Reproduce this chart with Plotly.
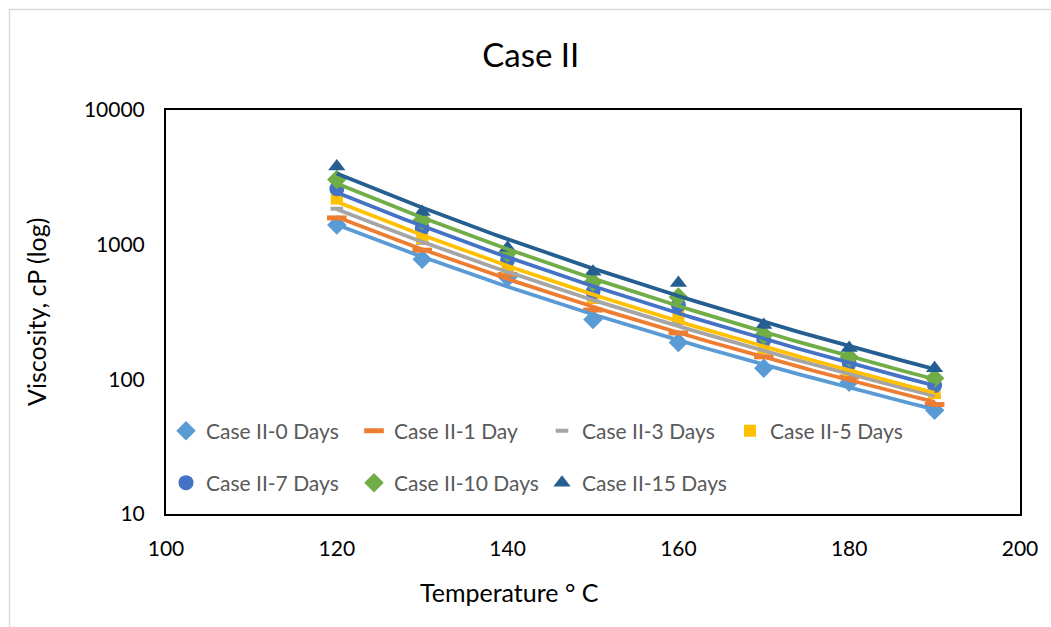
import numpy as np
import plotly.graph_objects as go

# Temperatures (deg C) and measured viscosities (cP) per ageing time
temperature = [120, 130, 140, 150, 160, 170, 180, 190]
visc_0_days = [1400, 780, 570, 278, 188, 121, 95, 59]
visc_1_day = [1580, 910, 600, 327, 221, 147, 104, 65]
visc_3_days = [1850, 1030, 630, 375, 262, 160, 111, 74]
visc_5_days = [2200, 1120, 680, 402, 300, 171, 117, 79]
visc_7_days = [2600, 1330, 770, 445, 356, 196, 132, 90]
visc_10_days = [3050, 1520, 870, 528, 409, 213, 146, 102]
visc_15_days = [3800, 1750, 950, 630, 520, 253, 171, 121]

series_names = ["Case II-0 Days", "Case II-1 Day", "Case II-3 Days", "Case II-5 Days",
                "Case II-7 Days", "Case II-10 Days", "Case II-15 Days"]
series_values = [visc_0_days, visc_1_day, visc_3_days, visc_5_days,
                 visc_7_days, visc_10_days, visc_15_days]

colors = ["#5B9BD5", "#ED7D31", "#A5A5A5", "#FFC000", "#4472C4", "#70AD47", "#255E91"]
markers = [
    dict(symbol="diamond", size=15),
    dict(symbol="line-ew", size=14, line=dict(width=5)),
    dict(symbol="line-ew", size=9, line=dict(width=4)),
    dict(symbol="square", size=12),
    dict(symbol="circle", size=15),
    dict(symbol="diamond", size=15),
    dict(symbol="triangle-up", size=15),
]

FONT = "Lato, 'Open Sans', sans-serif"

fig = go.Figure()

# Measured points
for i, (name, vals) in enumerate(zip(series_names, series_values)):
    m = dict(markers[i])
    m["color"] = colors[i]
    if "line" in m:
        m["line"] = dict(m["line"], color=colors[i])
    else:
        m["line"] = dict(width=0)
    fig.add_trace(go.Scatter(
        x=temperature, y=vals, mode="markers", name=name, marker=m,
        legend="legend" if i < 4 else "legend2",
    ))

# Power-law trendlines  y = a * x^b
x_arr = np.array(temperature, dtype=float)
x_fit = np.linspace(120, 190, 80)
for i, vals in enumerate(series_values):
    b, log_a = np.polyfit(np.log(x_arr), np.log(np.array(vals, dtype=float)), 1)
    y_fit = np.exp(log_a) * x_fit ** b
    fig.add_trace(go.Scatter(
        x=x_fit, y=y_fit, mode="lines", showlegend=False, hoverinfo="skip",
        line=dict(color=colors[i], width=3.75),
    ))

legend_common = dict(
    orientation="h", xref="paper", yref="paper", xanchor="left", yanchor="middle",
    entrywidth=143, entrywidthmode="pixels", bgcolor="rgba(0,0,0,0)",
    font=dict(family=FONT, size=21, color="#595959"), itemwidth=30,
    tracegroupgap=0,
)

fig.update_layout(
    width=1051, height=627,
    margin=dict(l=166, r=31, t=110, b=113),
    paper_bgcolor="white", plot_bgcolor="white",
    font=dict(family=FONT, color="black"),
    title=dict(text="Case II", x=0.505, xref="container", xanchor="center",
               y=1 - 55 / 627, yref="container", yanchor="middle",
               font=dict(family=FONT, size=33, color="black")),
    xaxis=dict(range=[100, 200], tickvals=[100, 120, 140, 160, 180, 200],
               showgrid=False, zeroline=False, showline=True, mirror=True,
               linecolor="black", linewidth=2, ticks="",
               tickfont=dict(family=FONT, size=21, color="black"),
               ticklabelstandoff=15),
    yaxis=dict(type="log", range=[1, 4], tickvals=[10, 100, 1000, 10000],
               ticktext=["10", "100", "1000", "10000"],
               showgrid=False, zeroline=False, showline=True, mirror=True,
               linecolor="black", linewidth=2, ticks="",
               tickfont=dict(family=FONT, size=21, color="black"),
               ticklabelstandoff=15),
    legend=dict(legend_common, x=0.0, y=(514 - 431) / 404),
    legend2=dict(legend_common, x=0.0, y=(514 - 483) / 404),
    annotations=[
        dict(text="Temperature ° C", xref="paper", yref="paper",
             x=(509 - 166) / 854, y=-(592 - 514) / 404,
             xanchor="center", yanchor="middle", showarrow=False,
             font=dict(family=FONT, size=25, color="black")),
        dict(text="Viscosity, cP (log)", xref="paper", yref="paper",
             x=-(166 - 36) / 854, y=0.5, textangle=-90,
             xanchor="center", yanchor="middle", showarrow=False,
             font=dict(family=FONT, size=25, color="black")),
    ],
    shapes=[
        # outer chart frame
        dict(type="rect", xref="paper", yref="paper",
             x0=-(166 - 9.5) / 854, x1=1.2, y0=-0.4, y1=(514 - 9.5) / 404,
             line=dict(color="#D9D9D9", width=1.5), fillcolor="rgba(0,0,0,0)",
             layer="below"),
    ],
)

fig.write_html("out.html")
